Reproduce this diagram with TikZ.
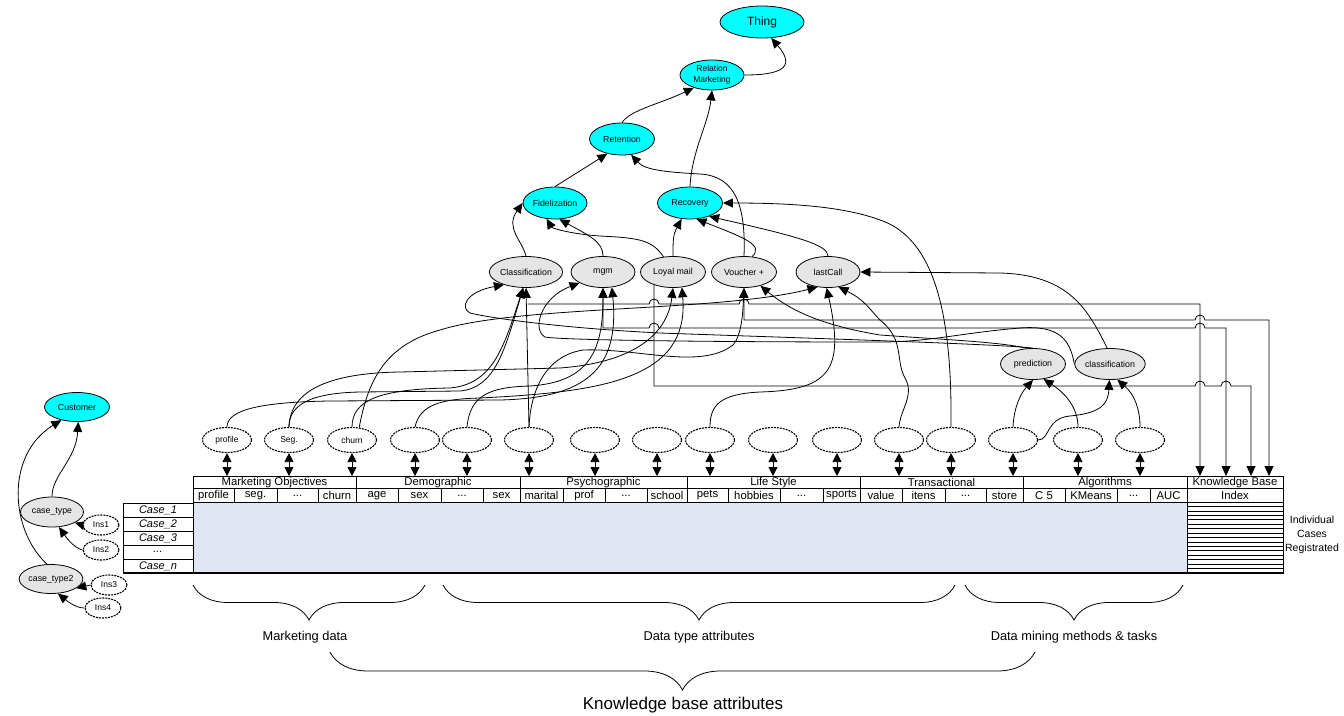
\documentclass[tikz,border=0pt]{standalone}
\usepackage{fontspec}
\setmainfont{Liberation Sans}
\usetikzlibrary{arrows.meta,shapes.geometric,decorations.pathreplacing,backgrounds}
\definecolor{tbody}{RGB}{225,231,242}
\definecolor{aqua}{RGB}{0,255,255}
\definecolor{actfill}{RGB}{229,229,229}
\newcommand\tdots{...}
\begin{document}
\begin{tikzpicture}[x=1pt,y=1pt,
  every node/.style={inner sep=0pt},
  base/.style={ellipse,draw,line width=0.8pt,minimum width=64pt,minimum height=31pt,font=\fontsize{8.8}{10}\selectfont},
  concept/.style={base,fill=aqua},
  method/.style={base,fill=actfill},
  attr/.style={ellipse,draw,fill=white,line width=1.1pt,dash pattern=on 2pt off 1pt,minimum width=49pt,minimum height=25pt,font=\fontsize{8.5}{10}\selectfont},
  inst/.style={attr,minimum width=36pt,minimum height=20pt},
  link/.style={line width=0.8pt},
  arr/.style={link,-{Triangle[length=10pt,width=9pt]}},
  dbl/.style={link,{Triangle[length=9pt,width=9pt]}-{Triangle[length=9pt,width=9pt]}},
  cell/.style={draw,line width=0.8pt},
  hdr/.style={font=\fontsize{11.3}{12}\selectfont},
  casetxt/.style={font=\fontsize{11}{12}\selectfont\itshape},
  curly/.style={decorate,decoration={brace,mirror,amplitude=#1},line width=0.8pt},
  lbl/.style={font=\fontsize{12.8}{14}\selectfont}
]
\useasboundingbox (0,0) rectangle (1344,-715);

% ---------- concept hierarchy ----------
\node[concept,minimum width=84pt,minimum height=32pt,font=\fontsize{12}{13}\selectfont] (thing) at (762,-22) {Thing};
\node[concept,minimum height=30pt,align=center,font=\fontsize{8.5}{10.5}\selectfont] (rm) at (712,-75) {Relation\\Marketing};
\node[concept,minimum width=65pt,minimum height=32pt] (ret) at (622,-139) {Retention};
\node[concept,minimum height=32pt] (fid) at (555,-203) {Fidelization};
\node[concept,minimum width=65pt,minimum height=32pt] (rec) at (690,-203) {Recovery};

% ---------- marketing actions ----------
\node[method] (cls) at (526,-272) {Classification};
\node[method] (mgm) at (603,-272) {mgm};
\node[method,minimum width=65pt] (loy) at (673,-272) {Loyal mail};
\node[method,minimum width=65pt] (vou) at (744,-272) {Voucher +};
\node[method] (lst) at (828,-272) {lastCall};

% ---------- data mining tasks ----------
\node[method,minimum width=65pt] (pred) at (1033,-364) {prediction};
\node[method] (clf) at (1110,-364) {classification};

% ---------- customer branch ----------
\node[concept,minimum width=65pt,minimum height=29pt] (cust) at (77,-407) {Customer};
\node[method,minimum width=63pt,minimum height=30pt] (ct1) at (52,-512) {case\_type};
\node[method,minimum width=63pt,minimum height=29pt] (ct2) at (51,-579) {case\_type2};
\node[inst] (ins1) at (101,-525) {Ins1};
\node[inst] (ins2) at (101,-550) {Ins2};
\node[inst] (ins3) at (109,-585) {Ins3};
\node[inst] (ins4) at (103,-608) {Ins4};

% ---------- attribute instances ----------
\node[attr] (d1) at (227,-440) {profile};
\node[attr] (d2) at (289,-440) {Seg.};
\node[attr] (d3) at (352,-440) {churn};
\foreach \n/\x in {d4/415,d5/467,d6/529,d7/595,d8/657,d9/710,d10/773,d11/837,d12/899,d13/951,d14/1013,d15/1078,d16/1140}
  \node[attr] (\n) at (\x,-440) {};

% ---------- case base table ----------
\fill[tbody] (193,-502) rectangle (1187,-573);
\foreach \a/\b/\t in {193/356/Marketing Objectives,356/520/Demographic,520/687/Psychographic,687/860/Life Style,860/1023/Transactional,1023/1187/Algorithms,1187/1283/Knowledge Base}{
  \draw[cell] (\a,-476) rectangle (\b,-488);
  \node[hdr] (g\a) at ({(\a+\b)/2},-482.5) {\t};
}
\foreach \a/\b/\t in {193/234/profile,234/277/seg.,277/318/\tdots,318/356/churn,
  356/398/age,398/441/sex,441/483/\tdots,483/520/sex,
  520/563/marital,563/605/prof,605/647/\tdots,647/687/school,
  687/728/pets,728/780/hobbies,780/823/\tdots,823/860/sports,
  860/902/value,902/945/itens,945/986/\tdots,986/1023/store,
  1023/1065/C 5,1065/1117/KMeans,1117/1150/\tdots,1150/1187/AUC,1187/1283/Index}{
  \draw[cell] (\a,-488) rectangle (\b,-502);
  \node[hdr] (s\a) at ({(\a+\b)/2},-495.5) {\t};
}
\foreach \k in {0,...,16}
  \draw[line width=0.7pt] (1187,{-502-\k*4.4375}) -- (1283,{-502-\k*4.4375});
\draw[cell] (193,-476) rectangle (1283,-573);
\draw[line width=1.4pt] (123,-573) -- (1283,-573);
\draw[cell] (1187,-476) -- (1187,-573);
\node[align=center,font=\fontsize{10.5}{14}\selectfont] (reg) at (1312,-535) {Individual\\Cases\\Registrated};

% case rows
\foreach \i/\t in {0/Case\_1,1/Case\_2,2/Case\_3,3/\tdots,4/Case\_n}{
  \draw[cell] (123,{-503-14*\i}) rectangle (193,{-517-14*\i});
  \node[casetxt] (c\i) at (158,{-510-14*\i}) {\t};
}

% knowledge base index arrow ends
\coordinate (kb1) at (1200,-476);
\coordinate (kb2) at (1226,-476);
\coordinate (kb3) at (1251,-476);
\coordinate (kb4) at (1269,-476);

% ---------- braces ----------
\draw[curly=35] (193,-585) -- (425,-585);
\node[lbl] (bm) at (305,-637) {Marketing data};
\draw[curly=35] (443,-585) -- (955,-585);
\node[lbl] (bd) at (699,-637) {Data type attributes};
\draw[curly=35] (965,-585) -- (1183,-585);
\node[lbl] (bt) at (1074,-637) {Data mining methods \& tasks};
\draw[curly=38] (330,-652) -- (1035,-652);
\node[font=\fontsize{17}{18}\selectfont] (bk) at (683,-705) {Knowledge base attributes};

\begin{pgfonlayer}{background}
% hierarchy links
\draw[arr] (rm.east) .. controls (780,-75) and (797,-68) .. (thing.-60);
\draw[arr] (ret.north) .. controls (630,-110) and (660,-104) .. (rm.-145);
\draw[arr] (rec.north) .. controls (692,-150) and (708,-125) .. (rm.south);
\draw[arr] (fid.north) -- (ret.-135);
\draw[arr] (vou.north) .. controls (746,-205) and (735,-176) .. (700,-174) .. controls (665,-172) and (645,-170) .. (ret.-60);
\draw[arr] (cls.north) .. controls (522,-240) and (505,-228) .. (fid.west);
\draw[arr] (loy.122) .. controls (652,-240) and (640,-238) .. (600,-236) .. controls (570,-234) and (552,-228) .. (fid.-118);
\draw[arr] (mgm.north) .. controls (603,-242) and (590,-236) .. (fid.-75);
\draw[arr] (loy.north) .. controls (673,-240) and (673,-235) .. (rec.-118);
\draw[arr] (vou.62) .. controls (764,-245) and (745,-238) .. (rec.-68);
\draw[arr] (lst.north) .. controls (828,-245) and (800,-237) .. (rec.-35);
\draw[arr] (d13.north) .. controls (952,-330) and (940,-240) .. (880,-220) .. controls (840,-205) and (780,-203) .. (rec.east);

% customer branch
\draw[arr] (ct1.north) .. controls (52,-475) and (76,-460) .. (cust.-85);
\draw[arr] (ct2.105) .. controls (10,-530) and (5,-455) .. (cust.-140);
\draw[arr] (ins1.west) -- (ct1.-25);
\draw[arr] (ins2.west) .. controls (75,-548) and (68,-540) .. (ct1.-65);
\draw[arr] (ins3.west) -- (ct2.-20);
\draw[arr] (ins4.west) .. controls (75,-608) and (66,-600) .. (ct2.-65);

% attribute columns
\foreach \n in {d1,d2,d3,d4,d5,d6,d7,d8,d9,d10,d11,d12,d13,d14,d15,d16}
  \draw[dbl] (\n.south) -- (\n.south |- 0,-476);

% data mining tasks
\draw[arr] (d14.north) .. controls (1014,-405) and (1022,-392) .. (pred.south);
\draw[arr] (d14.east) .. controls (1050,-440) and (1046,-418) .. (1070,-416) .. controls (1100,-413) and (1108,-405) .. (clf.-92);
\draw[arr] (d15.north) .. controls (1078,-410) and (1068,-395) .. (pred.-55);
\draw[arr] (d16.north) .. controls (1140,-410) and (1135,-395) .. (clf.-65);
\draw[arr] (clf.100) .. controls (1088,-310) and (1070,-275) .. (1000,-273) -- (lst.east);

% prediction / classification into actions
\draw[arr] (pred.110) .. controls (1000,-342) and (950,-340) .. (880,-335) .. controls (820,-325) and (790,-310) .. (vou.-40);
\draw[arr] (pred.north) .. controls (1000,-344) and (800,-338) .. (660,-333) .. controls (560,-328) and (490,-318) .. (470,-313) .. controls (460,-308) and (465,-292) .. (cls.-150);
\draw[arr] (clf.west) .. controls (1070,-340) and (1060,-325) .. (1020,-328) .. controls (960,-333) and (930,-342) .. (880,-342) .. controls (700,-342) and (560,-340) .. (545,-337) .. controls (532,-330) and (540,-298) .. (mgm.-155);

% attributes into actions
\draw[arr] (d6.north) -- (cls.south);
\draw[arr] (d1.north) .. controls (227,-410) and (260,-402) .. (330,-401) -- (500,-400) .. controls (585,-398) and (620,-370) .. (mgm.-60);
\draw[arr] (d2.north) .. controls (289,-405) and (310,-393) .. (360,-392) -- (460,-391) .. controls (495,-388) and (505,-350) .. (cls.-100);
\draw[arr] (d2.north) .. controls (290,-390) and (330,-373) .. (400,-372) -- (560,-368) .. controls (640,-362) and (668,-330) .. (loy.south);
\draw[arr] (d3.north) .. controls (352,-400) and (380,-389) .. (450,-388) .. controls (492,-384) and (503,-350) .. (cls.-100);
\draw[arr] (d3.60) .. controls (368,-380) and (385,-345) .. (440,-330) .. controls (520,-305) and (720,-312) .. (lst.-125);
\draw[arr] (d4.north) .. controls (420,-405) and (440,-399) .. (480,-398) .. controls (600,-392) and (690,-380) .. (loy.-60);
\draw[arr] (d5.north) .. controls (470,-395) and (490,-387) .. (530,-386) .. controls (590,-382) and (603,-350) .. (mgm.south);
\draw[arr] (d6.north) .. controls (530,-400) and (540,-357) .. (583,-350) .. controls (640,-348) and (700,-370) .. (733,-345) .. controls (742,-335) and (743,-310) .. (vou.south);
\draw[arr] (d9.north) .. controls (710,-405) and (720,-394) .. (760,-392) .. controls (830,-390) and (845,-370) .. (lst.-95);
\draw[arr] (d12.north) .. controls (900,-410) and (915,-395) .. (905,-378) .. controls (895,-360) and (905,-340) .. (880,-320) .. controls (870,-310) and (865,-300) .. (lst.-55);

% knowledge base index links
\draw[arr] (527.5,-304) -- (649,-304) arc[start angle=180,end angle=0,radius=5] -- (739,-304) arc[start angle=180,end angle=0,radius=5] -- (1200,-304) -- (kb1);
\draw[link,{Triangle[length=10pt,width=9pt]}-{Triangle[length=10pt,width=9pt]}] (vou.south) -- (744,-320) -- (1195,-320) arc[start angle=180,end angle=0,radius=5] -- (1269,-320) -- (kb4);
\draw[link,{Triangle[length=10pt,width=9pt]}-{Triangle[length=10pt,width=9pt]}] (mgm.south) -- (603,-328) -- (649,-328) arc[start angle=180,end angle=0,radius=5] -- (1195,-328) arc[start angle=180,end angle=0,radius=5] -- (1226,-328) -- (kb2);
\draw[arr] (654,-272) -- (654,-386) -- (1195,-386) arc[start angle=180,end angle=0,radius=5] -- (1221,-386) arc[start angle=180,end angle=0,radius=5] -- (1251,-386) -- (kb3);
\end{pgfonlayer}
\end{tikzpicture}
\end{document}
